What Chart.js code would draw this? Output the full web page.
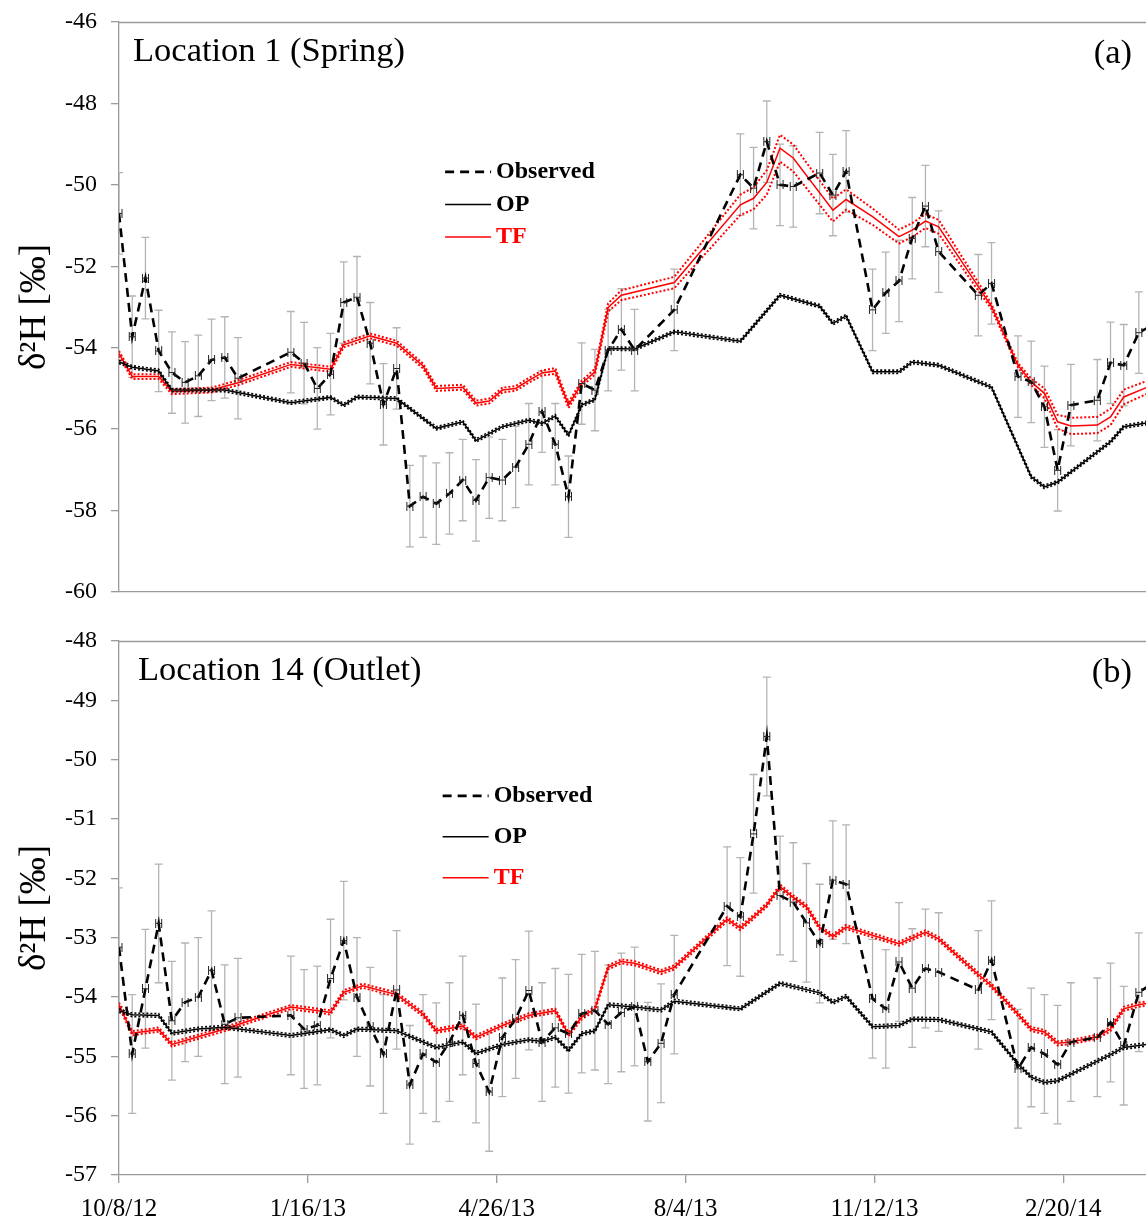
<!DOCTYPE html>
<html>
<head>
<meta charset="utf-8">
<script src="https://cdn.jsdelivr.net/npm/chart.js@4.4.1/dist/chart.umd.min.js"></script>
<style>
  html, body { margin: 0; padding: 0; background: #fff; overflow: hidden; }
  .panel { position: absolute; left: 0; width: 1146px; overflow: hidden; }
  #wrapA { top: -7px; height: 629px; }
  #wrapB { top: 612px; height: 608px; }
  canvas { display: block; }
</style>
</head>
<body>
<div class="panel" id="wrapA"><canvas id="panelA" width="1153" height="629"></canvas></div>
<div class="panel" id="wrapB"><canvas id="panelB" width="1153" height="608"></canvas></div>
<script>
// x values are days after 10/8/12
const xTickLabels = ['10/8/12', '1/16/13', '4/26/13', '8/4/13', '11/12/13', '2/20/14'];

// --- (a) Location 1 (Spring) ---
const obsDaysA = [0,7,14,21,28,35,42,49,56,63,91,98,105,112,119,126,133,140,147,154,161,168,175,182,189,196,203,210,217,224,231,238,245,252,259,266,273,294,329,336,343,350,357,371,378,385,399,406,413,420,427,434,455,462,476,483,490,497,504,518,525,532,540,547];
const obsA = [-50.70,-53.73,-52.29,-54.08,-54.61,-54.85,-54.69,-54.30,-54.24,-54.75,-54.11,-54.38,-55.00,-54.65,-52.89,-52.76,-53.89,-55.39,-54.51,-57.89,-57.66,-57.83,-57.58,-57.25,-57.75,-57.19,-57.25,-56.93,-56.37,-55.57,-56.37,-57.66,-54.88,-55.04,-54.06,-53.55,-54.06,-53.07,-49.75,-50.08,-48.94,-50.00,-50.04,-49.71,-50.25,-49.67,-53.07,-52.65,-52.36,-51.31,-50.52,-51.64,-52.71,-52.42,-54.71,-54.84,-55.45,-57.01,-55.41,-55.29,-54.37,-54.43,-53.63,-53.45];
const obsErrA = 1.0;

const opDaysA = [0,7,21,28,56,91,112,119,126,147,168,182,189,203,217,224,231,238,245,252,259,273,294,329,350,371,378,385,399,413,420,434,462,483,490,497,525,532,544];
const opA = [-54.35,-54.48,-54.57,-55.04,-55.04,-55.35,-55.22,-55.41,-55.21,-55.25,-55.98,-55.82,-56.28,-55.94,-55.78,-55.86,-55.68,-56.15,-55.41,-55.27,-54.02,-54.03,-53.61,-53.84,-52.71,-52.98,-53.40,-53.22,-54.59,-54.59,-54.35,-54.43,-54.97,-57.17,-57.42,-57.30,-56.31,-55.94,-55.85];
const opBandA = 0.04;

const tfDaysA = [0,7,21,28,49,63,91,112,119,133,147,161,168,182,189,196,203,210,217,224,231,238,245,252,259,266,294,329,336,343,350,357,378,385,399,413,420,427,434,455,462,476,483,490,497,504,518,525,532,544];
const tfA = [-54.14,-54.71,-54.71,-55.08,-55.04,-54.86,-54.41,-54.53,-53.93,-53.71,-53.89,-54.45,-55.00,-54.97,-55.36,-55.31,-55.04,-55.00,-54.80,-54.62,-54.57,-55.41,-54.88,-54.59,-53.01,-52.71,-52.40,-50.49,-50.33,-49.94,-49.10,-49.34,-50.62,-50.36,-50.78,-51.27,-51.11,-50.89,-51.03,-52.50,-52.99,-54.43,-54.84,-55.12,-55.82,-55.92,-55.90,-55.70,-55.21,-54.98];
const tfBandA = [0.06,0.06,0.06,0.06,0.06,0.06,0.06,0.06,0.06,0.06,0.06,0.06,0.06,0.06,0.06,0.06,0.06,0.06,0.06,0.06,0.07,0.07,0.07,0.07,0.10,0.12,0.14,0.25,0.27,0.30,0.33,0.33,0.28,0.25,0.20,0.17,0.17,0.17,0.17,0.10,0.06,0.05,0.08,0.12,0.17,0.20,0.20,0.20,0.18,0.16];

// --- (b) Location 14 (Outlet) ---
const obsDaysB = [0,7,14,21,28,35,42,49,56,63,91,98,105,112,119,126,133,140,147,154,161,168,175,182,189,196,203,210,217,224,231,238,245,252,259,266,273,280,287,294,322,329,336,343,350,357,364,371,378,385,399,406,413,420,427,434,455,462,476,483,490,497,504,518,525,532,540,547];
const obsB = [-53.16,-54.96,-53.86,-52.76,-54.40,-54.09,-54.00,-53.55,-54.46,-54.35,-54.31,-54.54,-54.48,-53.69,-53.05,-54.00,-54.50,-54.96,-53.88,-55.48,-54.96,-55.10,-54.76,-54.31,-55.12,-55.60,-54.68,-54.37,-53.89,-54.76,-54.52,-54.62,-54.28,-54.23,-54.46,-54.26,-54.16,-55.09,-54.78,-53.96,-52.47,-52.65,-51.25,-49.61,-52.29,-52.40,-52.75,-53.10,-52.03,-52.10,-54.03,-54.20,-53.41,-53.85,-53.52,-53.58,-53.88,-53.38,-55.21,-54.85,-54.96,-55.14,-54.76,-54.68,-54.43,-54.82,-53.92,-53.78];
const obsErrB = 1.0;

const opDaysB = [0,7,21,28,42,56,91,112,119,126,147,168,182,189,203,217,224,231,238,245,252,259,273,287,294,329,350,371,378,385,399,413,420,434,462,476,483,490,497,525,532,544];
const opB = [-54.23,-54.30,-54.31,-54.61,-54.54,-54.51,-54.65,-54.55,-54.65,-54.54,-54.57,-54.85,-54.76,-54.95,-54.80,-54.72,-54.75,-54.68,-54.90,-54.62,-54.57,-54.13,-54.17,-54.22,-54.07,-54.20,-53.77,-53.93,-54.09,-53.99,-54.50,-54.48,-54.37,-54.38,-54.59,-55.13,-55.35,-55.44,-55.41,-54.97,-54.85,-54.80];
const opBandB = 0.03;

const tfDaysB = [0,7,21,28,56,91,112,119,129,147,161,168,182,189,203,217,231,238,245,252,259,266,273,287,294,322,329,336,343,350,357,364,371,378,385,399,413,427,434,455,462,476,483,490,497,504,518,525,532,540,544];
const tfB = [-54.13,-54.61,-54.55,-54.80,-54.54,-54.17,-54.26,-53.92,-53.81,-53.96,-54.29,-54.57,-54.49,-54.68,-54.48,-54.31,-54.23,-54.63,-54.34,-54.20,-53.50,-53.40,-53.43,-53.58,-53.50,-52.69,-52.84,-52.65,-52.45,-52.14,-52.32,-52.48,-52.83,-52.98,-52.82,-52.96,-53.10,-52.91,-53.02,-53.62,-53.81,-54.29,-54.54,-54.59,-54.78,-54.76,-54.67,-54.54,-54.20,-54.13,-54.11];
const tfBandB = 0.035;

const SERIF = "'Liberation Serif', 'Times New Roman', serif";
const AXIS_GREY = '#9a9a9a';
Chart.defaults.font.family = SERIF;
Chart.defaults.color = '#000';

// little "H" marker drawn at each observed sample
const hMark = (() => {
    const c = document.createElement('canvas');
    c.width = 9; c.height = 9;
    const g = c.getContext('2d');
    g.strokeStyle = '#222';
    g.lineWidth = 1;
    g.beginPath();
    g.moveTo(1.5, 0); g.lineTo(1.5, 9);
    g.moveTo(7.5, 0); g.lineTo(7.5, 9);
    g.moveTo(1.5, 4.5); g.lineTo(7.5, 4.5);
    g.stroke();
    return c;
})();

function toPoints(days, vals, band = 0, sign = 0) {
    return days.map((d, i) => {
        const w = Array.isArray(band) ? band[i] : band;
        return { x: d, y: vals[i] + sign * w };
    });
}

// grey error bars behind the observed series
const errorBars = {
    id: 'errorBars',
    beforeDatasetsDraw(chart, args, opts) {
        const { ctx, chartArea: a, scales: { x, y } } = chart;
        const pts = chart.data.datasets[0].data;
        ctx.save();
        ctx.beginPath();
        ctx.rect(a.left, a.top, a.width, a.height);
        ctx.clip();
        ctx.strokeStyle = '#b4b4b4';
        ctx.lineWidth = 1.3;
        ctx.beginPath();
        pts.forEach(p => {
            const px = x.getPixelForValue(p.x);
            const t = y.getPixelForValue(p.y + opts.err);
            const b = y.getPixelForValue(p.y - opts.err);
            ctx.moveTo(px, t); ctx.lineTo(px, b);
            ctx.moveTo(px - 4, t); ctx.lineTo(px + 4, t);
            ctx.moveTo(px - 4, b); ctx.lineTo(px + 4, b);
        });
        ctx.stroke();
        ctx.restore();
    }
};

// top frame line, panel labels and the legend
const decor = {
    id: 'decor',
    afterDraw(chart, args, opts) {
        const { ctx, chartArea: a } = chart;
        ctx.save();
        ctx.strokeStyle = AXIS_GREY;
        ctx.lineWidth = 1.3;
        ctx.beginPath();
        ctx.moveTo(a.left, a.top + 0.5);
        ctx.lineTo(a.right, a.top + 0.5);
        ctx.stroke();

        ctx.fillStyle = '#000';
        ctx.font = `34.5px ${SERIF}`;
        ctx.textBaseline = 'middle';
        ctx.textAlign = 'left';
        ctx.fillText(opts.title, a.left + opts.titleDx, a.top + 30);
        ctx.textAlign = 'right';
        ctx.fillText(opts.tag, 1132, a.top + 32);

        // legend
        const lx = a.left + a.width * opts.legendX;
        let ly = a.top + a.height * opts.legendY;
        ctx.textAlign = 'left';
        ctx.font = `bold 24px ${SERIF}`;
        chart.data.datasets.filter(d => d.inLegend).forEach(d => {
            ctx.save();
            ctx.strokeStyle = d.borderColor;
            ctx.lineWidth = d.borderWidth;
            ctx.setLineDash(d.borderDash || []);
            ctx.beginPath();
            ctx.moveTo(lx, ly);
            ctx.lineTo(lx + 46, ly);
            ctx.stroke();
            ctx.restore();
            ctx.fillStyle = d.borderColor;
            ctx.fillText(d.label, lx + 51, ly);
            ly += opts.legendGap;
        });
        ctx.restore();
    }
};

function makePanel(id, cfg) {
    const datasets = [
        { label: 'Observed', inLegend: true, data: toPoints(cfg.obsDays, cfg.obs), borderColor: '#000', borderWidth: 2.6, borderDash: [9, 6], pointStyle: hMark, pointRadius: 4 },
        { label: 'OP', inLegend: true, data: toPoints(cfg.opDays, cfg.op), borderColor: '#000', borderWidth: 1.5, pointRadius: 0 },
        { label: 'OP upper', data: toPoints(cfg.opDays, cfg.op, cfg.opBand, 1), borderColor: '#000', borderWidth: 1.6, borderDash: [2, 2], pointRadius: 0 },
        { label: 'OP lower', data: toPoints(cfg.opDays, cfg.op, cfg.opBand, -1), borderColor: '#000', borderWidth: 1.6, borderDash: [2, 2], pointRadius: 0 },
        { label: 'TF', inLegend: true, data: toPoints(cfg.tfDays, cfg.tf), borderColor: '#ff0000', borderWidth: 1.5, pointRadius: 0 },
        { label: 'TF upper', data: toPoints(cfg.tfDays, cfg.tf, cfg.tfBand, 1), borderColor: '#ff0000', borderWidth: 2, borderDash: [2, 2], pointRadius: 0 },
        { label: 'TF lower', data: toPoints(cfg.tfDays, cfg.tf, cfg.tfBand, -1), borderColor: '#ff0000', borderWidth: 2, borderDash: [2, 2], pointRadius: 0 }
    ];
    datasets.forEach(d => { d.tension = 0; d.fill = false; });

    return new Chart(document.getElementById(id), {
        type: 'line',
        data: { datasets },
        plugins: [errorBars, decor],
        options: {
            responsive: false,
            animation: false,
            devicePixelRatio: 1,
            layout: { padding: { top: cfg.padTop, right: 0, bottom: 0, left: 0 } },
            scales: {
                x: {
                    type: 'linear', min: 0, max: 544,
                    border: { color: AXIS_GREY, width: 1.3 },
                    grid: { drawOnChartArea: false, drawTicks: cfg.showX, tickLength: 8, color: AXIS_GREY, lineWidth: 1.3 },
                    ticks: {
                        display: cfg.showX, stepSize: 100, includeBounds: false, autoSkip: false, maxRotation: 0,
                        padding: 11, font: { size: 25 },
                        callback: v => xTickLabels[v / 100] ?? ''
                    },
                    afterFit: s => { s.height = cfg.xHeight; }
                },
                y: {
                    min: cfg.yMin, max: cfg.yMax,
                    border: { color: AXIS_GREY, width: 1.3 },
                    grid: { drawOnChartArea: false, tickLength: 8, color: AXIS_GREY, lineWidth: 1.3 },
                    ticks: { stepSize: cfg.yStep, padding: 14, font: { size: 24 } },
                    title: { display: true, text: 'δ²H [‰]', font: { size: 37 }, padding: { top: 13, bottom: 0 } },
                    afterFit: s => { s.width = 119; }
                }
            },
            plugins: {
                legend: { display: false },
                tooltip: { enabled: false },
                errorBars: { err: cfg.err },
                decor: { title: cfg.title, titleDx: cfg.titleDx, tag: cfg.tag, legendX: cfg.legendX, legendY: cfg.legendY, legendGap: cfg.legendGap }
            }
        }
    });
}

makePanel('panelA', {
    obsDays: obsDaysA, obs: obsA, err: obsErrA,
    opDays: opDaysA, op: opA, opBand: opBandA,
    tfDays: tfDaysA, tf: tfA, tfBand: tfBandA,
    yMin: -60, yMax: -46, yStep: 2,
    padTop: 29, xHeight: 30, showX: false,
    title: 'Location 1 (Spring)', titleDx: 14, tag: '(a)',
    legendX: 0.3174, legendY: 0.263, legendGap: 32.5
});

makePanel('panelB', {
    obsDays: obsDaysB, obs: obsB, err: obsErrB,
    opDays: opDaysB, op: opB, opBand: opBandB,
    tfDays: tfDaysB, tf: tfB, tfBand: tfBandB,
    yMin: -57, yMax: -48, yStep: 1,
    padTop: 29, xHeight: 45, showX: true,
    title: 'Location 14 (Outlet)', titleDx: 19, tag: '(b)',
    legendX: 0.315, legendY: 0.29, legendGap: 41
});
</script>
</body>
</html>
